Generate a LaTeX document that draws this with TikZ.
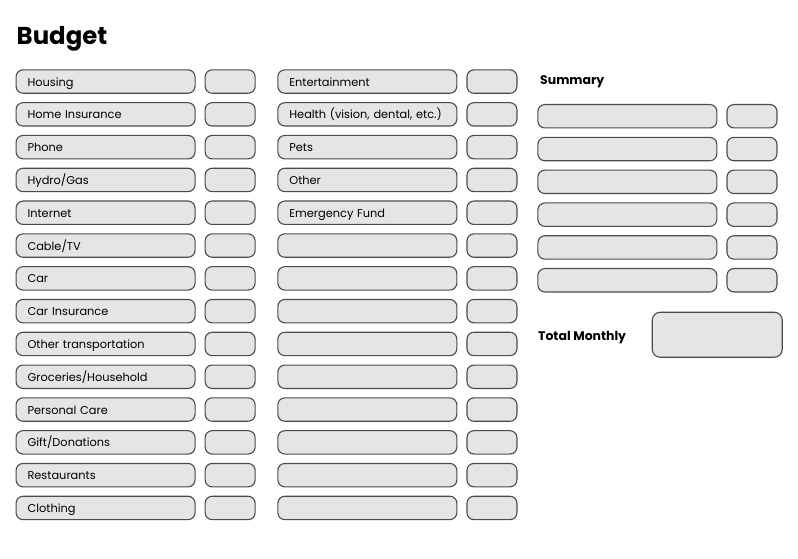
\documentclass[tikz,border=0pt]{standalone}
\usepackage{fontspec}
\setmainfont{Poppins}
\usetikzlibrary{positioning}
\definecolor{boxfill}{RGB}{229,229,229}
\definecolor{boxline}{RGB}{75,75,75}
\tikzset{
  field/.style={draw=boxline, fill=boxfill, line width=1.1bp, rounded corners=7bp,
    minimum height=23.4bp, inner xsep=11.5bp, inner ysep=0pt, text width=156bp,
    text height=11bp, text depth=2bp,
    align=left, font=\fontsize{11.4}{13}\selectfont, anchor=north west},
  amount/.style={draw=boxline, fill=boxfill, line width=1.1bp, rounded corners=7bp,
    minimum height=23.4bp, minimum width=50bp, inner sep=0pt},
  heading/.style={anchor=base west, inner xsep=0pt, font=\fontsize{12.5}{15}\bfseries}
}

\begin{document}
\begin{tikzpicture}[x=1bp,y=-1bp]
    \useasboundingbox (0,0) rectangle (798,559);

    \node[anchor=base west, inner xsep=0pt, font=\fontsize{24.5}{30}\bfseries] (title) at (16.5,45) {Budget};

    \foreach \t [count=\i from 0] in {Housing, Home Insurance, Phone, Hydro/Gas, Internet,
        Cable/TV, Car, Car Insurance, Other transportation, Groceries/Household,
        Personal Care, Gift/Donations, Restaurants, Clothing}
      \node[field] (L\i) at (15.5,{69.3+32.8*\i}) {\t};
    \foreach \i in {0,...,13}
      \node[amount, right=9bp of L\i] (LA\i) {};

    \foreach \t [count=\i from 0] in {Entertainment, {Health (vision, dental, etc.)}, Pets,
        Other, Emergency Fund}
      \node[field] (M\i) at (277.3,{69.3+32.8*\i}) {\t};
    \foreach \i in {5,...,13}
      \node[field] (M\i) at (277.3,{69.3+32.8*\i}) {};
    \foreach \i in {0,...,13}
      \node[amount, right=9bp of M\i] (MA\i) {};

    \node[heading] (summary) at (540,85) {Summary};
    \foreach \i in {0,...,5}
      \node[field] (S\i) at (537.3,{104+32.8*\i}) {};
    \foreach \i in {0,...,5}
      \node[amount, right=9bp of S\i] (SA\i) {};

    \node[heading] (totallabel) at (538,340) {Total Monthly};
    \node[amount, anchor=north west, minimum width=130bp, minimum height=45bp,
      rounded corners=8bp] (total) at (651.7,311.7) {};
\end{tikzpicture}
\end{document}
